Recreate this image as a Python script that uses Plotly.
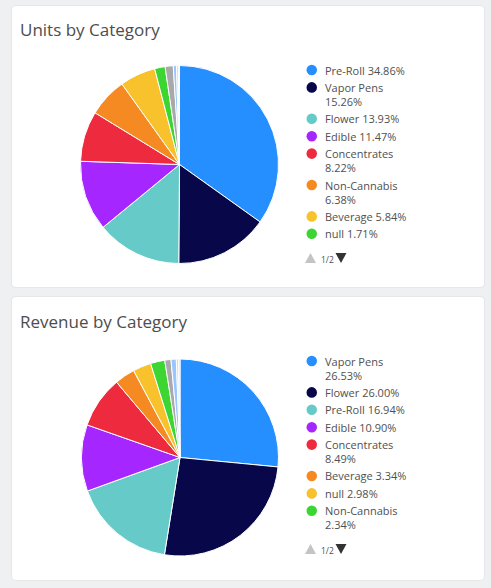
import math
import plotly.graph_objects as go

W, H = 491, 588

# Units by Category (share of units, %)
units_labels = ['Pre-Roll', 'Vapor Pens', 'Flower', 'Edible', 'Concentrates',
                'Non-Cannabis', 'Beverage', 'null', 'Accessories', 'Topical',
                'Tincture', 'Capsule']
units_values = [34.86, 15.26, 13.93, 11.47, 8.22, 6.38, 5.84, 1.71,
                1.32, 0.52, 0.31, 0.18]
units_colors = ['#268fff', '#07074a', '#66cbc8', '#a526ff', '#ee2a3e',
                '#f68a22', '#f8c22d', '#3cd531', '#a9a9ab', '#99c6ff',
                '#c9def5', '#d9d9d9']

# Revenue by Category (share of revenue, %)
rev_labels = ['Vapor Pens', 'Flower', 'Pre-Roll', 'Edible', 'Concentrates',
              'Beverage', 'null', 'Non-Cannabis', 'Accessories', 'Topical',
              'Tincture', 'Capsule']
rev_values = [26.53, 26.00, 16.94, 10.90, 8.49, 3.34, 2.98, 2.34,
              1.02, 0.86, 0.36, 0.24]
rev_colors = ['#268fff', '#07074a', '#66cbc8', '#a526ff', '#ee2a3e',
              '#f68a22', '#f8c22d', '#3cd531', '#a9a9ab', '#99c6ff',
              '#c9def5', '#d9d9d9']

PAGE_SIZE = 8
FONT = 'Open Sans, Liberation Sans, sans-serif'
TXT = '#505050'


def px(x):
    return x / W


def py(y):
    return 1 - y / H


def rounded_rect(x0, y0, x1, y1, r):
    # svg path in paper coords with rounded corners
    pts = [
        f'M {px(x0 + r)},{py(y0)}',
        f'L {px(x1 - r)},{py(y0)}',
        f'Q {px(x1)},{py(y0)} {px(x1)},{py(y0 + r)}',
        f'L {px(x1)},{py(y1 - r)}',
        f'Q {px(x1)},{py(y1)} {px(x1 - r)},{py(y1)}',
        f'L {px(x0 + r)},{py(y1)}',
        f'Q {px(x0)},{py(y1)} {px(x0)},{py(y1 - r)}',
        f'L {px(x0)},{py(y0 + r)}',
        f'Q {px(x0)},{py(y0)} {px(x0 + r)},{py(y0)}',
        'Z']
    return ' '.join(pts)


fig = go.Figure()
shapes = []
annotations = []

panels = [
    ('Units by Category', units_labels, units_values, units_colors, 6, 287, (179.5, 164.5), 99),
    ('Revenue by Category', rev_labels, rev_values, rev_colors, 297, 580, (180, 457.5), 98.5),
]

for title, labels, values, colors, top, bottom, (cx, cy), r in panels:
    # card
    shapes.append(dict(type='path', xref='paper', yref='paper', layer='below',
                       path=rounded_rect(11, top - 1, 485, bottom + 1, 5),
                       fillcolor='rgba(0,0,0,0.035)', line=dict(width=0)))
    shapes.append(dict(type='path', xref='paper', yref='paper', layer='below',
                       path=rounded_rect(12, top, 484, bottom, 4),
                       fillcolor='white', line=dict(width=0)))
    annotations.append(dict(text=title, xref='paper', yref='paper', showarrow=False,
                            x=px(18), y=py(top + 24), xanchor='left', yanchor='middle',
                            font=dict(family=FONT, size=17, color='#4d4d4d')))

    fig.add_trace(go.Pie(
        labels=labels, values=values, sort=False, direction='clockwise', rotation=0,
        marker=dict(colors=colors, line=dict(color='white', width=1)),
        textinfo='none', showlegend=False, hoverinfo='label+percent',
        domain=dict(x=[px(cx - r), px(cx + r)], y=[py(cy + r), py(cy - r)])))

    # legend, first page
    total = sum(values)
    y = top + 64
    for lab, val, col in list(zip(labels, values, colors))[:PAGE_SIZE]:
        pct = f'{val / total * 100:.2f}%'
        full = f'{lab} {pct}'
        lines = [lab, pct] if len(full) > 16 else [full]
        shapes.append(dict(type='circle', xref='paper', yref='paper',
                           x0=px(306.5), x1=px(317), y0=py(y + 5.3), y1=py(y - 5.3),
                           fillcolor=col, line=dict(width=0)))
        annotations.append(dict(text='<br>'.join(lines), xref='paper', yref='paper',
                                showarrow=False, align='left',
                                x=px(323), y=py(y + (len(lines) - 1) * 7),
                                xanchor='left', yanchor='middle',
                                font=dict(family=FONT, size=11, color=TXT)))
        y += 17.4 + 14 * (len(lines) - 1)

    # pager
    pages = math.ceil(len(labels) / PAGE_SIZE)
    yp = top + 252
    shapes.append(dict(type='path', xref='paper', yref='paper',
                       path=f'M {px(305)},{py(yp + 5)} L {px(316)},{py(yp + 5)} L {px(310.5)},{py(yp - 5)} Z',
                       fillcolor='#c4c4c4', line=dict(width=0)))
    shapes.append(dict(type='path', xref='paper', yref='paper',
                       path=f'M {px(335.5)},{py(yp - 5)} L {px(346.5)},{py(yp - 5)} L {px(341)},{py(yp + 5)} Z',
                       fillcolor='#333333', line=dict(width=0)))
    annotations.append(dict(text=f'1/{pages}', xref='paper', yref='paper', showarrow=False,
                            x=px(318.5), y=py(yp + 1), xanchor='left', yanchor='middle',
                            font=dict(family=FONT, size=8.5, color=TXT)))

fig.update_layout(
    width=W, height=H, autosize=False,
    margin=dict(l=0, r=0, t=0, b=0),
    paper_bgcolor='#eef0f2', plot_bgcolor='#eef0f2',
    shapes=shapes, annotations=annotations,
    font=dict(family=FONT),
)

fig.write_html('out.html', config={'displayModeBar': False},
               post_script="document.body.style.margin='0';")
